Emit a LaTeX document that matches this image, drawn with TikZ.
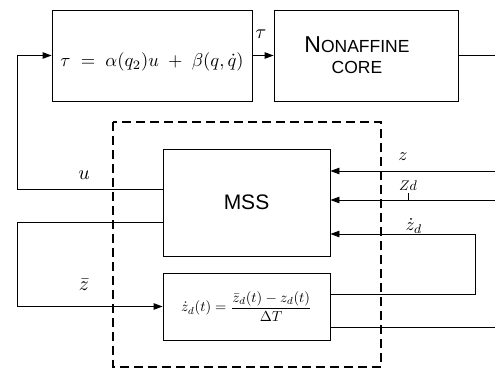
\documentclass[tikz,border=0pt]{standalone}
\usepackage{fontspec}
\setsansfont{Liberation Sans}
\usetikzlibrary{arrows.meta}
\tikzset{
  blk/.style={draw,line width=0.9pt,inner sep=0pt,anchor=center},
  conn/.style={line width=0.9pt},
  arr/.style={conn,-{Triangle[length=9pt,width=6.5pt]}},
  lbl/.style={inner sep=0pt,anchor=center},
}
\begin{document}
\begin{tikzpicture}[x=1pt,y=-1pt]
\useasboundingbox (0,0) rectangle (495,369);
% boxes
\node[blk,minimum width=200pt,minimum height=91pt] (ctl) at (152,55.5) {};
\node[lbl,scale=1.85] (ctltxt) at (152,62) {$\tau\;=\;\alpha(q_2)u\;+\;\beta(q,\dot q)$};
\node[blk,minimum width=184pt,minimum height=91pt] (core) at (366,55.5) {};
\node[lbl,font=\sffamily] (coretxt) at (357,57) {\begin{tabular}{@{}c@{}}{\fontsize{23}{24}\selectfont N}{\fontsize{17.5}{24}\selectfont ONAFFINE}\\[5pt]{\fontsize{17.5}{18}\selectfont CORE}\end{tabular}};
\node[blk,minimum width=167pt,minimum height=107pt,font=\sffamily\fontsize{21}{24}\selectfont] (mss) at (246.5,202.5) {MSS};
\node[blk,minimum width=167pt,minimum height=67pt] (der) at (246.5,306.5) {};
\node[lbl,scale=1.45] (dertxt) at (246.5,306.5) {$\displaystyle \dot z_d(t)=\frac{\bar z_d(t)-z_d(t)}{\Delta T}$};
% dashed frame
\draw[line width=1.8pt,dash pattern=on 9pt off 5pt] (113,122) rectangle (381,367);
% coordinates
\coordinate (out1) at (495,55.5);
\coordinate (fbu) at (17,189);
\coordinate (fbz) at (17,222);
\coordinate (zin) at (495,171);
\coordinate (zdin) at (495,200);
\coordinate (zdl) at (475,234);
\coordinate (out2) at (495,327);
% connectors
\draw[arr] (ctl.east) -- (core.west);
\draw[conn] (core.east) -- (out1);
\draw[arr] ([yshift=13.5pt]mss.west) -- (fbu) |- (ctl.west);
\draw[arr] ([yshift=-19.5pt]mss.west) -- (fbz) |- (der.west);
\draw[arr] (zin) -- (zin -| mss.east);
\draw[arr] (zdin) -- (zdin -| mss.east);
\draw[arr] ([yshift=12.5pt]der.east) -| (zdl) -- (zdl -| mss.east);
\draw[conn] ([yshift=-20.5pt]der.east) -- (out2);
\draw[conn,line width=0.5pt] (408,193) -- (408,200);
% labels
\node[lbl,scale=2.0] (ltau) at (261,34) {$\tau$};
\node[lbl,scale=2.0] (lu) at (84,175) {$u$};
\node[lbl,scale=2.0] (lzb) at (84,285) {$\bar z$};
\node[lbl,scale=1.8] (lz) at (403,157) {$z$};
\node[lbl,scale=1.4] (lzd) at (408,186) {$Zd$};
\node[lbl,scale=1.8] (lzdot) at (414,226) {$\dot z_d$};
\end{tikzpicture}
\end{document}
